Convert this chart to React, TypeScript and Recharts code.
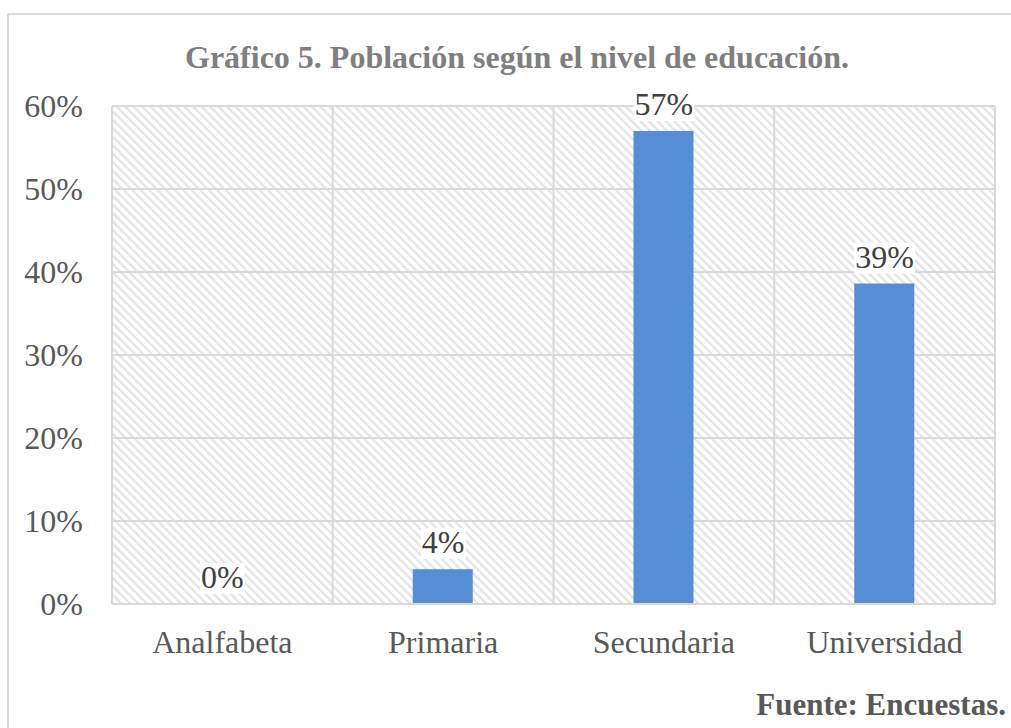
import React from "react";
import { ComposedChart, Bar, Line, XAxis, YAxis, CartesianGrid, LabelList } from "recharts";

const categories = ["Analfabeta", "Primaria", "Secundaria", "Universidad"];
const values = [0, 4.2, 57, 38.6];
const yTicks = [0, 10, 20, 30, 40, 50, 60];
const titleText = "Gráfico 5. Población según el nivel de educación.";
const sourceText = "Fuente: Encuestas.";

const data = categories.map((c, i) => ({ name: c, value: values[i] }));

const FONT = "Liberation Serif";
const FS = 32;

const renderLabel = (props: any) => {
  const { x, y, value } = props;
  const txt = `${Math.round(Number(value))}%`;
  const digits = txt.length - 1;
  const w = (digits * 0.5 + 0.833) * FS;
  const cx = Number(x);
  const base = Number(y) - 16;
  return (
    <g>
      <rect x={cx - w / 2 - 1} y={base - 25} width={w + 2} height={31} fill="#ffffff" />
      <text x={cx} y={base} textAnchor="middle" fill="#404040" style={{ fontFamily: FONT, fontSize: FS }}>
        {txt}
      </text>
    </g>
  );
};

export default function App() {
  return (
    <div style={{ position: "absolute", left: 0, top: 0, width: 1011, height: 728, background: "#fff" }}>
      <svg width={1011} height={728} style={{ position: "absolute", left: 0, top: 0 }}>
        <line x1={8} y1={14} x2={1011} y2={14} stroke="#d9d9d9" strokeWidth={2} />
        <line x1={8} y1={14} x2={8} y2={728} stroke="#d9d9d9" strokeWidth={2} />
        <text x={517} y={68} textAnchor="middle" fill="#7f7f7f" style={{ fontFamily: FONT, fontSize: 32, fontWeight: "bold" }}>
          {titleText}
        </text>
        <text x={1006} y={715} textAnchor="end" fill="#595959" style={{ fontFamily: FONT, fontSize: 31, fontWeight: "bold" }}>
          {sourceText}
        </text>
      </svg>
      <div style={{ position: "absolute", left: 0, top: 0 }}>
        <ComposedChart
          width={1011}
          height={728}
          data={data}
          margin={{ top: 106, right: 16, bottom: 64, left: 12 }}
          barCategoryGap={0}
        >
          <defs>
            <pattern id="hatch" patternUnits="userSpaceOnUse" width={6} height={6} patternTransform="rotate(-45)">
              <rect x={0} y={0} width={6} height={6} fill="#ffffff" />
              <rect x={0} y={0} width={2.2} height={6} fill="#e3e3e3" />
            </pattern>
          </defs>
          <CartesianGrid
            fill="url(#hatch)"
            fillOpacity={1}
            stroke="#d9d9d9"
            strokeWidth={2}
            verticalCoordinatesGenerator={({ offset }: any) =>
              categories.map((_, i) => offset.left + (i * offset.width) / categories.length).concat([offset.left + offset.width])
            }
          />
          <XAxis
            dataKey="name"
            height={60}
            tickLine={false}
            axisLine={{ stroke: "#d9d9d9", strokeWidth: 2 }}
            tickSize={0}
            tickMargin={26}
            tick={{ fill: "#595959", fontSize: FS, fontFamily: FONT }}
            interval={0}
          />
          <YAxis
            width={100}
            domain={[0, 60]}
            ticks={yTicks}
            tickFormatter={(v: number) => `${v}%`}
            tickLine={false}
            axisLine={{ stroke: "#d9d9d9", strokeWidth: 2 }}
            tickSize={0}
            tickMargin={29}
            tick={{ fill: "#595959", fontSize: FS, fontFamily: FONT }}
          />
          <Bar dataKey="value" fill="#558ed5" barSize={60} isAnimationActive={false} />
          <Line
            dataKey="value"
            stroke="none"
            dot={false}
            activeDot={false}
            isAnimationActive={false}
          >
            <LabelList dataKey="value" content={renderLabel} />
          </Line>
        </ComposedChart>
      </div>
    </div>
  );
}
